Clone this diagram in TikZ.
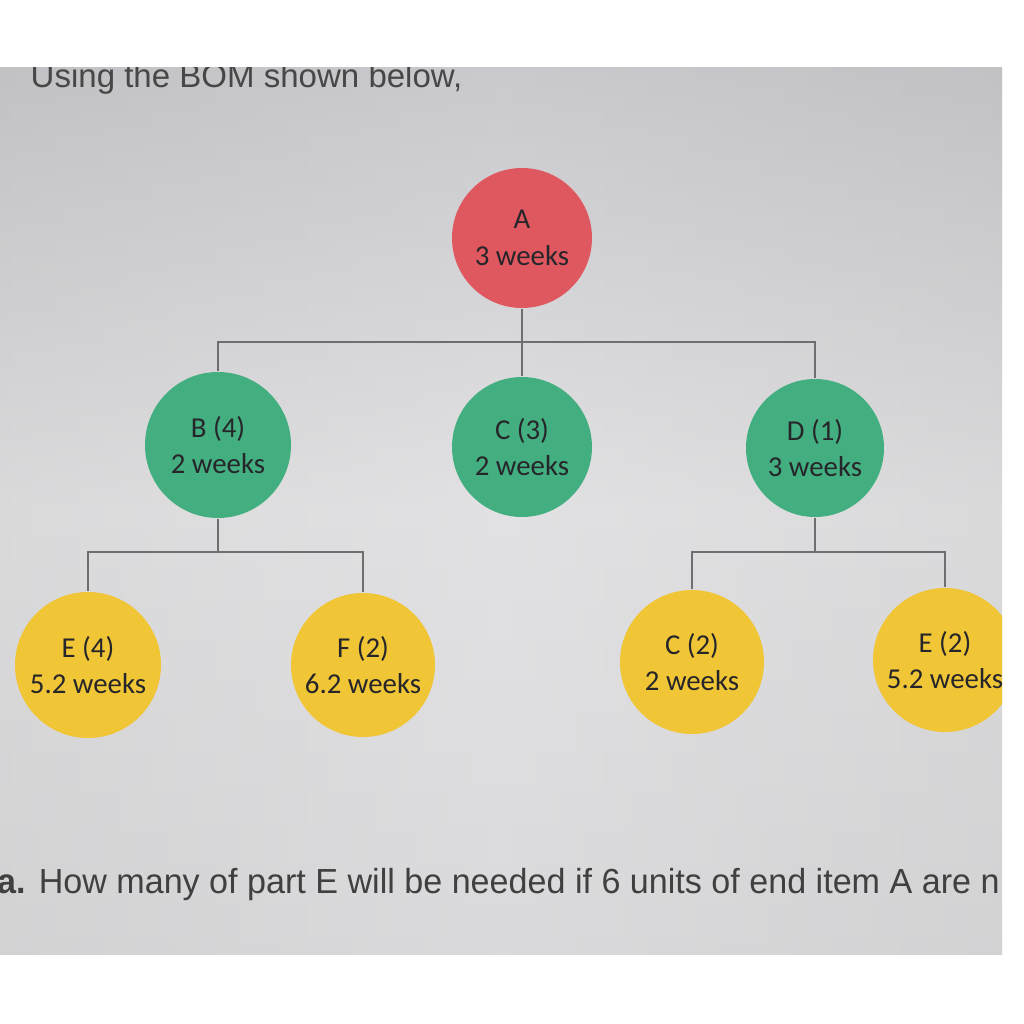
\documentclass[tikz,border=0pt]{standalone}
\usepackage{fontspec}
\setmainfont{Carlito}
\newfontfamily\arialf{Liberation Sans}
\definecolor{redA}{HTML}{DF5860}
\definecolor{greenN}{HTML}{43AE80}
\definecolor{yellowN}{HTML}{F0C536}
\definecolor{lineC}{HTML}{6E6E70}
\definecolor{txtC}{HTML}{26262A}
\definecolor{bgTop}{HTML}{BDBDC2}
\definecolor{bgMid}{HTML}{E2E2E4}
\definecolor{bgBot}{HTML}{D6D6D8}
\begin{document}
\begin{tikzpicture}
\tikzset{
  bom/.style={circle, inner sep=0pt, align=center, text=txtC,
    font=\fontsize{8.2}{10.4}\selectfont},
  redn/.style={bom, fill=redA, minimum size=1.40cm},
  greenn/.style={bom, fill=greenN},
  yellown/.style={bom, fill=yellowN},
  conn/.style={draw=lineC, line width=0.6pt}
}
\useasboundingbox (0,0) rectangle (10.24,10.24);
\fill[white] (0,0) rectangle (10.24,10.24);
\begin{scope}
\clip (0,0.69) rectangle (10.02,9.56);
\shade[top color=bgTop, bottom color=bgBot, middle color=bgMid] (0,0.69) rectangle (10.02,9.56);
\shade[left color=black!20, right color=black!20, middle color=bgMid, opacity=0.35] (0,0.69) rectangle (10.02,9.56);
% title text
\node[anchor=base west, inner sep=0pt, text=black!72, font=\arialf\fontsize{9.4}{11}\selectfont] (title) at (0.30,9.36) {Using the BOM shown below,};
% nodes
\node[redn] (A) at (5.22,7.86) {A\\3 weeks};
\node[greenn, minimum size=1.46cm] (B) at (2.18,5.79) {B (4)\\2 weeks};
\node[greenn, minimum size=1.40cm] (C3) at (5.22,5.77) {C (3)\\2 weeks};
\node[greenn, minimum size=1.38cm] (D) at (8.15,5.76) {D (1)\\3 weeks};
\node[yellown, minimum size=1.46cm] (E4) at (0.88,3.59) {E (4)\\5.2 weeks};
\node[yellown, minimum size=1.44cm] (F) at (3.63,3.59) {F (2)\\6.2 weeks};
\node[yellown, minimum size=1.44cm] (C2) at (6.92,3.62) {C (2)\\2 weeks};
\node[yellown, minimum size=1.44cm] (E2) at (9.45,3.64) {E (2)\\5.2 weeks};
\coordinate (busA) at (5.22,6.82);
\coordinate (busB) at (2.18,4.72);
% connectors
\draw[conn] (A.south) -- (C3.north);
\draw[conn] (B.north) -- (B.north |- busA) -- (D.north |- busA) -- (D.north);
\draw[conn] (B.south) -- (B.south |- busB);
\draw[conn] (E4.north) -- (E4.north |- busB) -- (F.north |- busB) -- (F.north);
\draw[conn] (D.south) -- (D.south |- busB);
\draw[conn] (C2.north) -- (C2.north |- busB) -- (E2.north |- busB) -- (E2.north);
% question
\node[anchor=base west, inner sep=0pt, text=black!75, xscale=0.98, font=\arialf\fontsize{9.9}{12}\selectfont] (q) at (-0.03,1.31) {\textbf{a.} How many of part E will be needed if 6 units of end item A are n};
\end{scope}
\end{tikzpicture}
\end{document}
